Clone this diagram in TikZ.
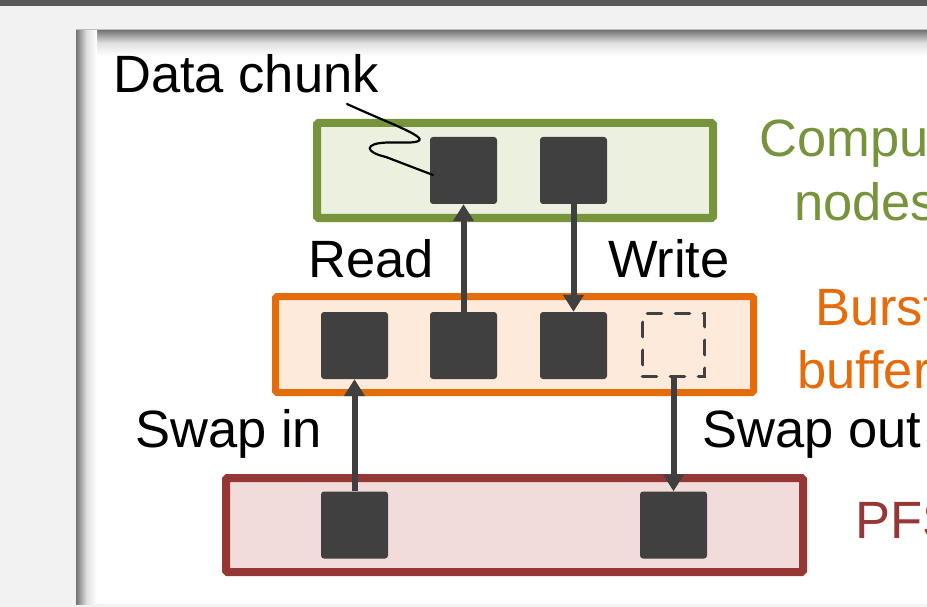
\documentclass[tikz,border=0pt]{standalone}
\usepackage{fontspec}
\setmainfont{Liberation Sans}
\usetikzlibrary{arrows.meta}
\definecolor{grnS}{HTML}{77933C}
\definecolor{grnF}{HTML}{EBF1DE}
\definecolor{orgS}{HTML}{E46C0A}
\definecolor{orgF}{HTML}{FDEADA}
\definecolor{redS}{HTML}{953735}
\definecolor{redF}{HTML}{F2DCDB}
\definecolor{chunk}{HTML}{404040}
\definecolor{bgray}{HTML}{F2F2F2}
\definecolor{topbar}{HTML}{595959}
\begin{document}
\begin{tikzpicture}[x=1pt,y=-1pt,
  tier/.style={draw, rounded corners=1.5pt, inner sep=0pt},
  chunkbox/.style={fill=chunk, rounded corners=3pt, minimum width=67pt, minimum height=67pt, inner sep=0pt},
  ghostbox/.style={draw=chunk, line width=3.8pt, dash pattern=on 14pt off 14pt, line cap=round, minimum width=62pt, minimum height=63pt, inner sep=0pt},
  flow/.style={draw=chunk, line width=6pt, -{Triangle[length=17pt,width=20pt]}},
  lbl/.style={font=\fontsize{52.5}{63}\selectfont, inner sep=0pt}
]
\clip (0,0) rectangle (927,607);
% background and panel
\fill[bgray] (0,0) rectangle (927,607);
\fill[topbar] (0,0) rectangle (927,6);
\fill[white] (76,30) rectangle (940,604);
\shade[top color=black!55, bottom color=white, middle color=black!12] (76,30) rectangle (940,56);
\shade[left color=black!55, right color=white, middle color=black!12] (76,30) rectangle (97,604);
\draw[black!25, line width=1pt] (76,29.5) -- (940,29.5);

% tiers
\node[tier, draw=grnS, fill=grnF, line width=8pt, minimum width=396pt, minimum height=95pt] (cn) at (515,170.5) {};
\node[tier, draw=orgS, fill=orgF, line width=7pt, minimum width=478pt, minimum height=96pt] (bb) at (514.5,344.5) {};
\node[tier, draw=redS, fill=redF, line width=8pt, minimum width=577pt, minimum height=94pt] (pfs) at (514.5,525) {};

% chunks
\node[chunkbox] (g1) at (463.5,170.5) {};
\node[chunkbox] (g2) at (573.5,170.5) {};
\node[chunkbox] (o1) at (354.5,345.5) {};
\node[chunkbox] (o2) at (463.5,345.5) {};
\node[chunkbox] (o3) at (573.5,345.5) {};
\node[ghostbox] (o4) at (673.5,345) {};
\node[chunkbox] (r1) at (354.5,525) {};
\node[chunkbox] (r2) at (673.5,525) {};

% flows
\draw[flow] (o2.north) -- (g1.south);
\draw[flow] (g2.south) -- (o3.north);
\draw[flow] (r1.north) -- (o1.south);
\draw[flow] (o4.south) -- (r2.north);

% labels
\node[lbl, anchor=base west] (dc) at (113,93) {Data chunk};
\node[lbl, anchor=base west] (rd) at (308,277) {Read};
\node[lbl, anchor=base west] (wr) at (608,277) {Write};
\node[lbl, anchor=base west] (si) at (135,447) {Swap in};
\node[lbl, anchor=base west] (so) at (702,447) {Swap out};
\node[lbl, anchor=base west, text=grnS] (cnl1) at (759,157) {Compute};
\node[lbl, anchor=base west, text=grnS] (cnl2) at (794,221) {nodes};
\node[lbl, anchor=base west, text=orgS] (bbl1) at (815,325) {Burst};
\node[lbl, anchor=base west, text=orgS] (bbl2) at (797,388) {buffers};
\node[lbl, anchor=base west, text=redS] (pfsl) at (855,538) {PFS};

% callout squiggle
\coordinate (cs) at (347,104);
\coordinate (ce) at (433,175);
\draw[line width=2.2pt, line cap=round, line join=round] (cs) .. controls (395,126) and (440,141) .. (410,142.5) -- (388,142.5) .. controls (364,143) and (364,152) .. (386,157) -- (ce);
\end{tikzpicture}
\end{document}
